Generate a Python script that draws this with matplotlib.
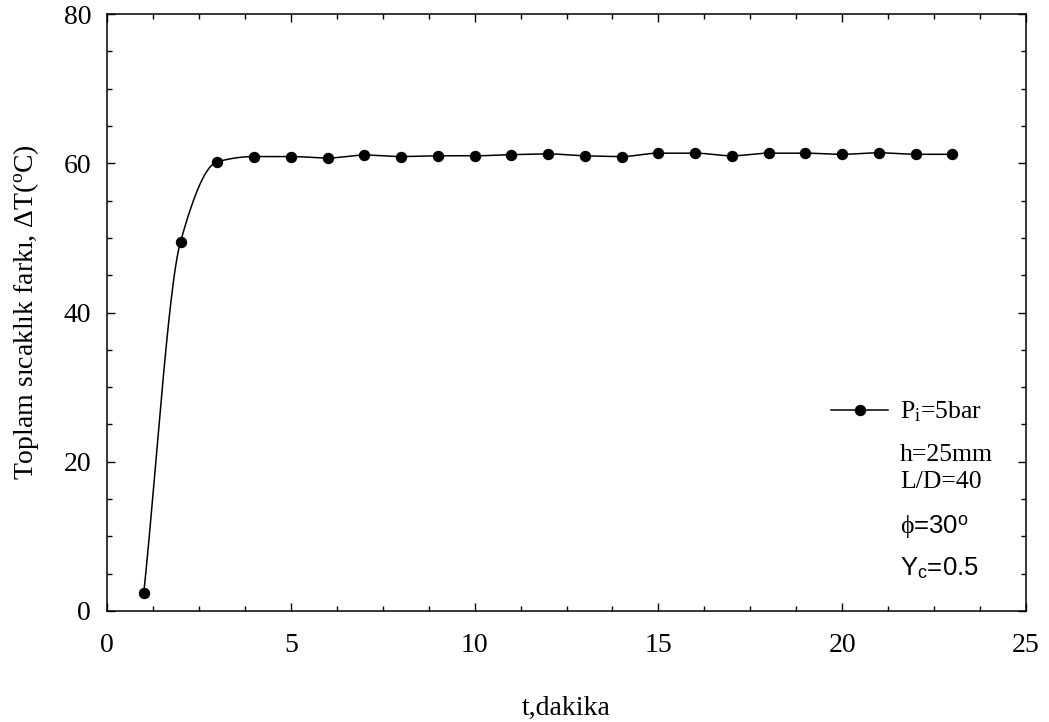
import numpy as np
import matplotlib
matplotlib.use("Agg")
import matplotlib.pyplot as plt
from matplotlib.ticker import MultipleLocator

plt.rcParams['font.family'] = ['Liberation Serif', 'DejaVu Serif']
plt.rcParams['mathtext.fontset'] = 'custom'
plt.rcParams['mathtext.rm'] = 'Liberation Serif'
plt.rcParams['mathtext.it'] = 'Liberation Serif:italic'
plt.rcParams['mathtext.sf'] = 'Liberation Sans'

# data
t_min = [1, 2, 3, 4, 5, 6, 7, 8, 9, 10, 11, 12, 13, 14, 15, 16, 17, 18, 19, 20, 21, 22, 23]
dT = [2.4, 49.5, 60.2, 60.9, 60.9, 60.7, 61.1, 60.9, 61.0, 61.0, 61.15, 61.25, 61.0, 60.9,
      61.35, 61.35, 61.0, 61.35, 61.35, 61.2, 61.4, 61.2, 61.2]
notes = ["h=25mm", "L/D=40"]
notes_sans = [r"$\mathrm{\phi}$=30$^{\mathsf{o}}$", r"Y$_{\mathsf{c}}$=0.5"]


def pchip(x, y, xs):
    # monotone cubic curve through the points (smooth drawing only)
    x = np.asarray(x, float)
    y = np.asarray(y, float)
    h = np.diff(x)
    d = np.diff(y) / h
    m = np.zeros_like(y)
    for k in range(1, len(x) - 1):
        if d[k - 1] * d[k] > 0:
            w1 = 2 * h[k] + h[k - 1]
            w2 = h[k] + 2 * h[k - 1]
            m[k] = (w1 + w2) / (w1 / d[k - 1] + w2 / d[k])
    m[0] = d[0]
    m[-1] = d[-1]
    idx = np.clip(np.searchsorted(x, xs) - 1, 0, len(x) - 2)
    s = (xs - x[idx]) / h[idx]
    h00 = 2 * s**3 - 3 * s**2 + 1
    h10 = s**3 - 2 * s**2 + s
    h01 = -2 * s**3 + 3 * s**2
    h11 = s**3 - s**2
    return h00 * y[idx] + h10 * h[idx] * m[idx] + h01 * y[idx + 1] + h11 * h[idx] * m[idx + 1]


fig = plt.figure(figsize=(10.49, 7.22), dpi=100)
ax = fig.add_axes([107 / 1049, 1 - 611 / 722, 919 / 1049, 597 / 722])

xs = np.linspace(t_min[0], t_min[-1], 1000)
ax.plot(xs, pchip(t_min, dT, xs), color='black', lw=1.1)
ax.plot(t_min, dT, 'o', color='black', ms=7.2)
ax.plot([], [], '-o', color='black', lw=1.1, ms=7.2, label=r'P$_{\mathrm{i}}$=5bar')

ax.set_xlim(0, 25)
ax.set_ylim(0, 80)
ax.xaxis.set_major_locator(MultipleLocator(5))
ax.xaxis.set_minor_locator(MultipleLocator(1.25))
ax.yaxis.set_major_locator(MultipleLocator(20))
ax.yaxis.set_minor_locator(MultipleLocator(5))
ax.tick_params(which='both', direction='in', top=True, right=True, labelsize=20, width=1)
ax.tick_params(which='major', length=6)
ax.tick_params(which='minor', length=3.6)
ax.tick_params(axis='x', which='major', pad=16)
ax.tick_params(axis='y', which='major', pad=11.5)
for sp in ax.spines.values():
    sp.set_linewidth(1.1)

ax.set_xlabel('t,dakika', fontsize=20, labelpad=27)
ax.set_ylabel('Toplam sıcaklık farkı, ΔT($^{\\mathrm{o}}$C)', fontsize=20, labelpad=16)

ax.legend(loc='center left', bbox_to_anchor=(0.788, 0.333), frameon=False, fontsize=18.5,
          handlelength=2.22, handletextpad=0.47, borderpad=0, borderaxespad=0)

tx = (900 - 107) / 919
for s, py in zip(notes, [455, 482]):
    ax.text(tx, (611 - py) / 597, s, transform=ax.transAxes, fontsize=18.5, va='center', ha='left')
for s, py in zip(notes_sans, [527, 568]):
    ax.text(tx, (611 - py) / 597, s, transform=ax.transAxes, fontsize=18.5, va='center', ha='left',
            family=['Liberation Sans', 'DejaVu Sans'])

fig.savefig('out.png', dpi=100)
